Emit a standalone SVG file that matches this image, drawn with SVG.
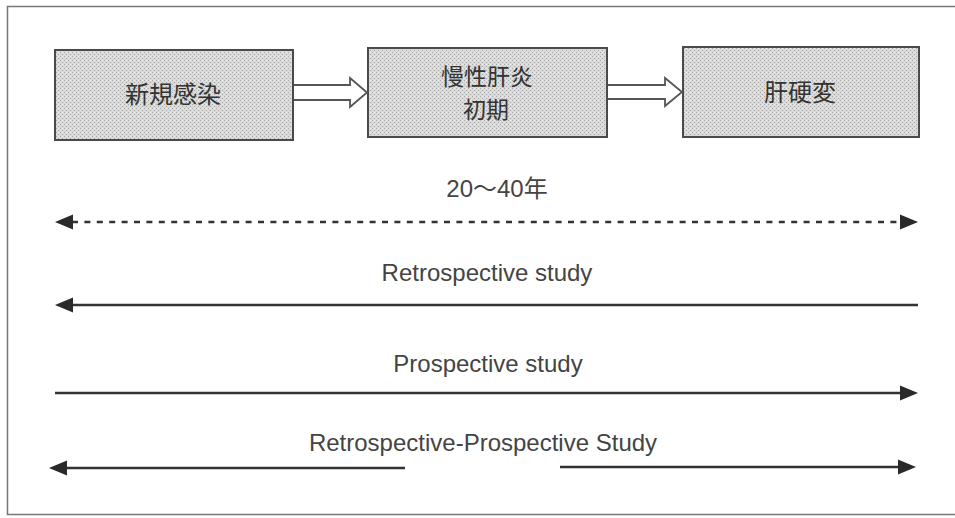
<svg xmlns="http://www.w3.org/2000/svg" width="955" height="518" viewBox="0 0 955 518">
<style>
.box{fill:url(#stipple);stroke:#4a4a4a;stroke-width:2}
.cjk{font-family:"Noto Sans CJK JP","Noto Sans CJK SC",sans-serif;font-size:24px;fill:#333;text-anchor:middle}
.cjk2{font-size:23px}
.lbl{font-family:"Liberation Sans","Noto Sans CJK JP",sans-serif;font-size:24px;fill:#444;text-anchor:middle}
.ln{stroke:#333;stroke-width:2.5;fill:none}
.dash{stroke:#333;stroke-width:2.5;fill:none;stroke-dasharray:6 6.4}
.hollow{fill:#fff;stroke:#555;stroke-width:1.8;stroke-linejoin:miter}
.head{fill:#2a2a2a}
</style>
<defs>
<pattern id="stipple" width="4" height="4" patternUnits="userSpaceOnUse">
<rect width="4" height="4" fill="#dadada"/>
<rect x="0" y="0" width="1" height="1" fill="#a8a8a8"/>
<rect x="2" y="2" width="1" height="1" fill="#a8a8a8"/>
<rect x="2" y="0" width="1" height="1" fill="#f0f0f0"/>
</pattern>
</defs>
<rect width="955" height="518" fill="#fff"/>
<path d="M955 6.5H7.5V514.5H955" fill="none" stroke="#777" stroke-width="1.5"/>

<g id="node-infection">
<rect class="box" x="55" y="50" width="238" height="90"/>
<text class="cjk" x="173" y="103">新規感染</text>
</g>
<g id="node-chronic">
<rect class="box" x="368" y="48" width="239" height="89"/>
<text class="cjk cjk2" x="487" y="85">慢性肝炎</text>
<text class="cjk cjk2" x="486" y="118">初期</text>
</g>
<g id="node-cirrhosis">
<rect class="box" x="683" y="47" width="236" height="90"/>
<text class="cjk" x="800" y="101">肝硬変</text>
</g>

<g id="connectors">
<path class="hollow" d="M294 85H350V78L367 92.5L350 107V100H294"/>
<path class="hollow" d="M608 85H665V78L682 92L665 106V99H608"/>

<text class="lbl" x="497" y="197">20～40年</text>
<line class="dash" x1="72" y1="222" x2="901" y2="222"/>
<path class="head" d="M55 222L73 214.5V229.5Z"/>
<path class="head" d="M918 222L900 214.5V229.5Z"/>

<text class="lbl" x="487" y="281">Retrospective study</text>
<line class="ln" x1="70" y1="305" x2="918" y2="305"/>
<path class="head" d="M55 305L73 297.5V312.5Z"/>

<text class="lbl" x="488" y="372">Prospective study</text>
<line class="ln" x1="55" y1="393" x2="903" y2="393"/>
<path class="head" d="M918 393L900 385.5V400.5Z"/>

<text class="lbl" x="483" y="451">Retrospective-Prospective Study</text>
<line class="ln" x1="64" y1="468" x2="405" y2="468"/>
<path class="head" d="M49 468L67 460.5V475.5Z"/>
<line class="ln" x1="560" y1="467" x2="901" y2="467"/>
<path class="head" d="M916 467L898 459.5V474.5Z"/>
</g>
</svg>
